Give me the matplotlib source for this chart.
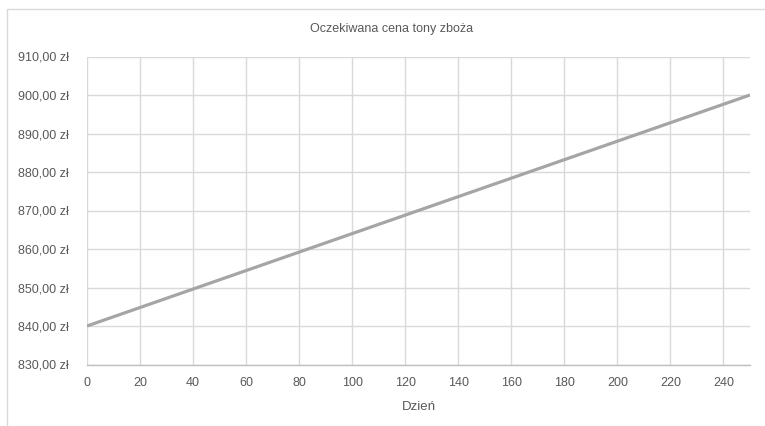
import matplotlib
matplotlib.use('Agg')
import matplotlib.pyplot as plt
from matplotlib.patches import Rectangle
from matplotlib.ticker import FuncFormatter

# data
days = [0, 250]
price = [840, 900]
x_ticks = list(range(0, 241, 20))
y_ticks = list(range(830, 911, 10))
title = 'Oczekiwana cena tony zboża'
xlabel = 'Dzień'

plt.rcParams['font.family'] = ['Liberation Sans', 'DejaVu Sans']

W, H = 765, 426
fig = plt.figure(figsize=(W / 100, H / 100), dpi=100)

# chart frame (cut off on the right and bottom)
fig.patches.append(Rectangle((7 / W, -0.1), 1.2, 1 - 9 / H + 0.1, transform=fig.transFigure,
                             fill=False, edgecolor='#D9D9D9', linewidth=1))

left, right, top, bottom = 87, 750, 56.5, 364.5
ax = fig.add_axes([left / W, 1 - bottom / H, (right - left) / W, (bottom - top) / H])

ax.plot(days, price, color='#A5A5A5', linewidth=2.3, solid_capstyle='butt', zorder=3)

ax.set_xlim(0, 250)
ax.set_ylim(830, 910)
ax.set_xticks(x_ticks)
ax.set_yticks(y_ticks)
ax.yaxis.set_major_formatter(FuncFormatter(lambda v, p: f'{v:.2f}'.replace('.', ',') + ' zł'))
ax.grid(True, color='#D9D9D9', linewidth=1)
ax.set_axisbelow(True)

for s in ['top', 'right', 'left']:
    ax.spines[s].set_visible(False)
ax.spines['bottom'].set_color('#BFBFBF')
ax.spines['bottom'].set_linewidth(1)
ax.tick_params(length=0, labelsize=9, colors='#595959')
ax.tick_params(axis='x', pad=9)
ax.tick_params(axis='y', pad=13)

ax.set_xlabel(xlabel, fontsize=9.5, color='#595959', labelpad=9)
fig.text(392 / W, 1 - 29 / H, title, ha='center', va='center', fontsize=9, color='#595959')

fig.savefig('out.png', dpi=100)
